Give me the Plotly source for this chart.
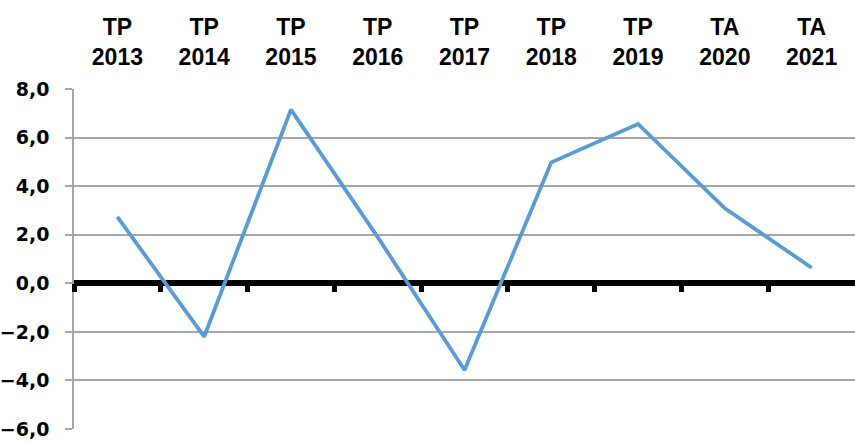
import plotly.graph_objects as go

prefixes = ["TP", "TP", "TP", "TP", "TP", "TP", "TP", "TA", "TA"]
years = ["2013", "2014", "2015", "2016", "2017", "2018", "2019", "2020", "2021"]
values = [2.73, -2.2, 7.15, 1.9, -3.57, 4.98, 6.56, 3.09, 0.64]

labels = [f"{p}<br>{y}" for p, y in zip(prefixes, years)]
xs = list(range(len(values)))
boundaries = [i - 0.5 for i in xs]

fig = go.Figure()
fig.add_trace(go.Scatter(
    x=xs, y=values, mode="lines",
    line=dict(color="#5b9bd5", width=3.8),
    xaxis="x", yaxis="y", showlegend=False, hoverinfo="skip",
))
fig.add_trace(go.Scatter(
    x=xs, y=values, mode="lines",
    line=dict(color="rgba(0,0,0,0)", width=0),
    xaxis="x2", yaxis="y", showlegend=False, hoverinfo="skip",
))

xrange = [-0.5, 8.5]
fig.update_layout(
    width=855, height=444,
    margin=dict(l=74, r=0, t=89, b=15),
    paper_bgcolor="white", plot_bgcolor="white",
    separators=",.",
    xaxis=dict(
        range=xrange, side="top", tickvals=xs, ticktext=labels, automargin=False,
        showgrid=False, zeroline=False, showline=False, ticks="",
        tickfont=dict(family="Liberation Sans", size=23, color="black", weight="bold"),
        ticklabelstandoff=18,
    ),
    xaxis2=dict(
        range=xrange, overlaying="x", anchor="free", position=6 / 14, side="bottom",
        tickvals=boundaries, showticklabels=False, showgrid=False, zeroline=False,
        showline=False, ticks="outside", ticklen=8, tickwidth=5, tickcolor="black",
        automargin=False,
    ),
    yaxis=dict(
        range=[-6, 8], dtick=2, tick0=0, tickformat=".1f", automargin=False,
        showgrid=True, gridcolor="#a6a6a6", gridwidth=1.5,
        zeroline=True, zerolinecolor="black", zerolinewidth=6,
        showline=True, linecolor="#a6a6a6", linewidth=1.5,
        ticks="outside", ticklen=7, tickcolor="#a6a6a6", tickwidth=1.5,
        tickfont=dict(family="DejaVu Sans", size=19, color="black", weight="bold"),
        ticklabelstandoff=12,
    ),
)

fig.write_html(
    "out.html",
    config={"displayModeBar": False},
    post_script="document.body.style.margin='0';",
)
